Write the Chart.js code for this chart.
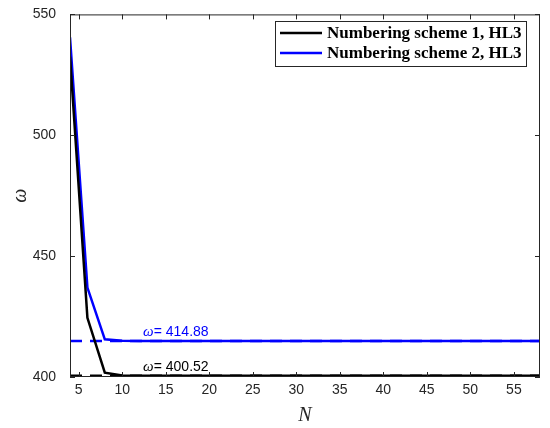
<!DOCTYPE html>
<html>
<head>
<meta charset="utf-8">
<script src="https://cdn.jsdelivr.net/npm/chart.js@4"></script>
<style>
  html, body { margin: 0; padding: 0; background: #fff; }
  #wrap { width: 550px; height: 428px; }
</style>
</head>
<body>
<div id="wrap"><canvas id="myChart" width="550" height="428"></canvas></div>
<script>
// N values and omega for both numbering schemes
const nValues = [4, 6, 8, 10, 12, 14, 16, 18, 20, 22, 24, 26, 28, 30, 32, 34, 36, 38, 40, 42, 44, 46, 48, 50, 52, 54, 56, 58];
const scheme1 = [532.6, 424.5, 401.8, 400.6, 400.53, 400.52, 400.52, 400.52, 400.52, 400.52, 400.52, 400.52, 400.52, 400.52,
                 400.52, 400.52, 400.52, 400.52, 400.52, 400.52, 400.52, 400.52, 400.52, 400.52, 400.52, 400.52, 400.52, 400.52];
const scheme2 = [540.5, 437.0, 415.6, 414.95, 414.9, 414.88, 414.88, 414.88, 414.88, 414.88, 414.88, 414.88, 414.88, 414.88,
                 414.88, 414.88, 414.88, 414.88, 414.88, 414.88, 414.88, 414.88, 414.88, 414.88, 414.88, 414.88, 414.88, 414.88];
const limit1 = 400.52;
const limit2 = 414.88;
const seriesLabels = ['Numbering scheme 1, HL3', 'Numbering scheme 2, HL3'];
const xTicks = [5, 10, 15, 20, 25, 30, 35, 40, 45, 50, 55];
const yTicks = [400, 450, 500, 550];

const xy = (xs, ys) => xs.map((x, i) => ({x: x, y: ys[i]}));
const ends = [nValues[0], nValues[nValues.length - 1]];

// box, inward ticks, legend and omega labels (matlab look)
const matlabLook = {
    id: 'matlabLook',
    afterDraw(chart) {
        const c = chart.ctx;
        const a = chart.chartArea;
        const xs = chart.scales.x, ys = chart.scales.y;
        c.save();
        c.strokeStyle = '#262626';
        c.lineWidth = 1;
        c.strokeRect(a.left + 0.5, a.top + 0.5, a.right - a.left - 1, a.bottom - a.top - 1);
        c.beginPath();
        xTicks.forEach(t => {
            const px = Math.round(xs.getPixelForValue(t)) + 0.5;
            c.moveTo(px, a.bottom); c.lineTo(px, a.bottom - 5);
            c.moveTo(px, a.top); c.lineTo(px, a.top + 5);
        });
        yTicks.forEach(t => {
            const py = Math.round(ys.getPixelForValue(t)) + 0.5;
            c.moveTo(a.left, py); c.lineTo(a.left + 5, py);
            c.moveTo(a.right, py); c.lineTo(a.right - 5, py);
        });
        c.stroke();

        // omega annotations
        const labels = [[limit2, '#0000ff', 417.0], [limit1, '#000000', 402.5]];
        labels.forEach(([val, col, yv]) => {
            let px = xs.getPixelForValue(12.4);
            const py = ys.getPixelForValue(yv);
            c.fillStyle = col;
            c.textBaseline = 'alphabetic';
            c.font = 'italic 15px "Liberation Serif"';
            c.fillText('\u03c9', px, py);
            px += c.measureText('\u03c9').width;
            c.font = '14px "Liberation Sans"';
            c.fillText('= ' + val.toFixed(2), px, py);
        });

        // legend box
        const lx = 275, ly = 21, lw = 251, lh = 45;
        c.fillStyle = '#fff';
        c.fillRect(lx, ly, lw, lh);
        c.strokeStyle = '#262626';
        c.lineWidth = 1;
        c.strokeRect(lx + 0.5, ly + 0.5, lw, lh);
        const cols = ['#000000', '#0000ff'];
        c.font = 'bold 17px "Liberation Serif"';
        c.textBaseline = 'middle';
        seriesLabels.forEach((txt, i) => {
            const yy = ly + 12 + i * 20;
            c.strokeStyle = cols[i];
            c.lineWidth = 2.5;
            c.beginPath(); c.moveTo(lx + 5, yy); c.lineTo(lx + 47, yy); c.stroke();
            c.fillStyle = '#000';
            c.fillText(txt, lx + 52, yy + 1);
        });
        c.restore();
    }
};

const ctx = document.getElementById('myChart').getContext('2d');
const myChart = new Chart(ctx, {
    type: 'line',
    data: {
        datasets: [
            {
                label: seriesLabels[0],
                data: xy(nValues, scheme1),
                borderColor: '#000000',
                borderWidth: 2.5,
                pointRadius: 0,
                order: 1
            },
            {
                label: seriesLabels[1],
                data: xy(nValues, scheme2),
                borderColor: '#0000ff',
                borderWidth: 2.5,
                pointRadius: 0,
                order: 2
            },
            {
                label: 'limit 1',
                data: xy(ends, [limit1, limit1]),
                borderColor: '#000000',
                borderWidth: 2.5,
                borderDash: [12, 8],
                pointRadius: 0,
                order: 3
            },
            {
                label: 'limit 2',
                data: xy(ends, [limit2, limit2]),
                borderColor: '#0000ff',
                borderWidth: 2.5,
                borderDash: [12, 8],
                pointRadius: 0,
                order: 4
            }
        ]
    },
    options: {
        responsive: false,
        animation: false,
        layout: { padding: { top: 10, right: 10, left: 0, bottom: 0 } },
        scales: {
            x: {
                type: 'linear',
                min: 4,
                max: 58,
                afterBuildTicks: s => { s.ticks = xTicks.map(v => ({value: v})); },
                afterFit: s => { s.height = 51; },
                grid: { display: false, drawTicks: false },
                border: { display: false },
                ticks: { color: '#262626', font: { family: 'Liberation Sans', size: 14 }, padding: 5, maxRotation: 0 },
                title: { display: true, text: 'N', color: '#262626', padding: 0,
                         font: { family: 'Liberation Serif', style: 'italic', size: 20 } }
            },
            y: {
                type: 'linear',
                min: 400,
                max: 550,
                afterBuildTicks: s => { s.ticks = yTicks.map(v => ({value: v})); },
                afterFit: s => { s.width = 70; },
                grid: { display: false },
                border: { display: false },
                ticks: { color: '#262626', font: { family: 'Liberation Sans', size: 14 }, padding: 6 },
                title: { display: true, text: '\u03c9', color: '#262626', padding: { top: 9, bottom: 0 },
                         font: { family: 'Liberation Serif', style: 'italic', size: 20 } }
            }
        },
        plugins: {
            legend: { display: false },
            tooltip: { enabled: false }
        }
    },
    plugins: [matlabLook]
});
</script>
</body>
</html>
